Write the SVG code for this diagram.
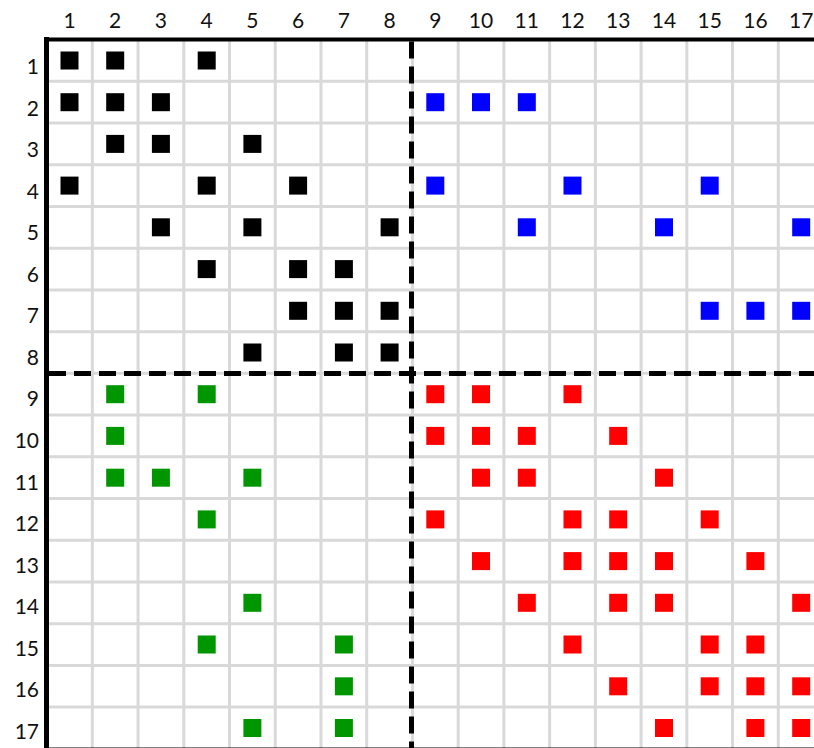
<svg xmlns="http://www.w3.org/2000/svg" xmlns:xlink="http://www.w3.org/1999/xlink" width="814" height="748" viewBox="0 0 814 748">
<style>
.grid{stroke:#d9d9d9;stroke-width:3;fill:none}
.border{stroke:#000;fill:none}
.dash{stroke:#000;stroke-width:5;fill:none;stroke-dasharray:17 8}
.lbl{font-family:Lato,"Liberation Sans",Arial,sans-serif;font-size:21px;fill:#111}
.k{fill:#000}.b{fill:#0000ff}.g{fill:#009600}.r{fill:#ff0000}
</style>
<defs><rect id="sq" width="18" height="18"/></defs>
<rect width="814" height="748" fill="#fff"/>
<g id="grid">
<path class="grid" d="M92.33 40V748M138.06 40V748M183.79 40V748M229.52 40V748M275.25 40V748M320.98 40V748M366.71 40V748M412.44 40V748M458.17 40V748M503.9 40V748M549.63 40V748M595.36 40V748M641.09 40V748M686.82 40V748M732.55 40V748M778.28 40V748"/>
<path class="grid" d="M47 81.32H814M47 123.04H814M47 164.76H814M47 206.48H814M47 248.2H814M47 289.92H814M47 331.64H814M47 373.36H814M47 415.08H814M47 456.8H814M47 498.52H814M47 540.24H814M47 581.96H814M47 623.68H814M47 665.4H814M47 707.12H814"/>
</g>
<g id="borders">
<path class="border" stroke-width="5" d="M46.5 37V748"/>
<path class="border" stroke-width="4" d="M44 39.5H814"/>
<path class="border" stroke-width="3" d="M44 749H814"/>
</g>
<g id="dividers">
<path class="dash" d="M411.5 41.5V748"/>
<path class="dash" d="M49 373.4H814"/>
</g>
<g id="col-labels" class="lbl" text-anchor="middle">
<text x="69.5" y="28">1</text><text x="115.2" y="28">2</text><text x="160.9" y="28">3</text><text x="206.7" y="28">4</text><text x="252.4" y="28">5</text><text x="298.1" y="28">6</text><text x="343.9" y="28">7</text><text x="389.6" y="28">8</text><text x="435.3" y="28">9</text><text x="481" y="28">10</text><text x="526.8" y="28">11</text><text x="572.5" y="28">12</text><text x="618.2" y="28">13</text><text x="664" y="28">14</text><text x="709.7" y="28">15</text><text x="755.4" y="28">16</text><text x="801.2" y="28">17</text>
</g>
<g id="row-labels" class="lbl" text-anchor="end">
<text x="39" y="74">1</text><text x="39" y="115.6">2</text><text x="39" y="157.1">3</text><text x="39" y="198.7">4</text><text x="39" y="240.2">5</text><text x="39" y="281.8">6</text><text x="39" y="323.3">7</text><text x="39" y="364.9">8</text><text x="39" y="406.4">9</text><text x="39" y="448">10</text><text x="39" y="489.5">11</text><text x="39" y="531.1">12</text><text x="39" y="572.6">13</text><text x="39" y="614.2">14</text><text x="39" y="655.7">15</text><text x="39" y="697.3">16</text><text x="39" y="738.8">17</text>
</g>
<g id="black" class="k">
<use href="#sq" x="60.5" y="51.5"/><use href="#sq" x="106.2" y="51.5"/><use href="#sq" x="197.7" y="51.5"/>
<use href="#sq" x="60.5" y="93.2"/><use href="#sq" x="106.2" y="93.2"/><use href="#sq" x="151.9" y="93.2"/>
<use href="#sq" x="106.2" y="134.9"/><use href="#sq" x="151.9" y="134.9"/><use href="#sq" x="243.4" y="134.9"/>
<use href="#sq" x="60.5" y="176.6"/><use href="#sq" x="197.7" y="176.6"/><use href="#sq" x="289.1" y="176.6"/>
<use href="#sq" x="151.9" y="218.3"/><use href="#sq" x="243.4" y="218.3"/><use href="#sq" x="380.6" y="218.3"/>
<use href="#sq" x="197.7" y="260.1"/><use href="#sq" x="289.1" y="260.1"/><use href="#sq" x="334.9" y="260.1"/>
<use href="#sq" x="289.1" y="301.8"/><use href="#sq" x="334.9" y="301.8"/><use href="#sq" x="380.6" y="301.8"/>
<use href="#sq" x="243.4" y="343.5"/><use href="#sq" x="334.9" y="343.5"/><use href="#sq" x="380.6" y="343.5"/>
</g>
<g id="blue" class="b">
<use href="#sq" x="426.3" y="93.2"/><use href="#sq" x="472" y="93.2"/><use href="#sq" x="517.8" y="93.2"/>
<use href="#sq" x="426.3" y="176.6"/><use href="#sq" x="563.5" y="176.6"/><use href="#sq" x="700.7" y="176.6"/>
<use href="#sq" x="517.8" y="218.3"/><use href="#sq" x="655" y="218.3"/><use href="#sq" x="792.2" y="218.3"/>
<use href="#sq" x="700.7" y="301.8"/><use href="#sq" x="746.4" y="301.8"/><use href="#sq" x="792.2" y="301.8"/>
</g>
<g id="green" class="g">
<use href="#sq" x="106.2" y="385.2"/><use href="#sq" x="197.7" y="385.2"/>
<use href="#sq" x="106.2" y="426.9"/>
<use href="#sq" x="106.2" y="468.7"/><use href="#sq" x="151.9" y="468.7"/><use href="#sq" x="243.4" y="468.7"/>
<use href="#sq" x="197.7" y="510.4"/>
<use href="#sq" x="243.4" y="593.8"/>
<use href="#sq" x="197.7" y="635.5"/><use href="#sq" x="334.9" y="635.5"/>
<use href="#sq" x="334.9" y="677.3"/>
<use href="#sq" x="243.4" y="719"/><use href="#sq" x="334.9" y="719"/>
</g>
<g id="red" class="r">
<use href="#sq" x="426.3" y="385.2"/><use href="#sq" x="472" y="385.2"/><use href="#sq" x="563.5" y="385.2"/>
<use href="#sq" x="426.3" y="426.9"/><use href="#sq" x="472" y="426.9"/><use href="#sq" x="517.8" y="426.9"/><use href="#sq" x="609.2" y="426.9"/>
<use href="#sq" x="472" y="468.7"/><use href="#sq" x="517.8" y="468.7"/><use href="#sq" x="655" y="468.7"/>
<use href="#sq" x="426.3" y="510.4"/><use href="#sq" x="563.5" y="510.4"/><use href="#sq" x="609.2" y="510.4"/><use href="#sq" x="700.7" y="510.4"/>
<use href="#sq" x="472" y="552.1"/><use href="#sq" x="563.5" y="552.1"/><use href="#sq" x="609.2" y="552.1"/><use href="#sq" x="655" y="552.1"/><use href="#sq" x="746.4" y="552.1"/>
<use href="#sq" x="517.8" y="593.8"/><use href="#sq" x="609.2" y="593.8"/><use href="#sq" x="655" y="593.8"/><use href="#sq" x="792.2" y="593.8"/>
<use href="#sq" x="563.5" y="635.5"/><use href="#sq" x="700.7" y="635.5"/><use href="#sq" x="746.4" y="635.5"/>
<use href="#sq" x="609.2" y="677.3"/><use href="#sq" x="700.7" y="677.3"/><use href="#sq" x="746.4" y="677.3"/><use href="#sq" x="792.2" y="677.3"/>
<use href="#sq" x="655" y="719"/><use href="#sq" x="746.4" y="719"/><use href="#sq" x="792.2" y="719"/>
</g>
</svg>
